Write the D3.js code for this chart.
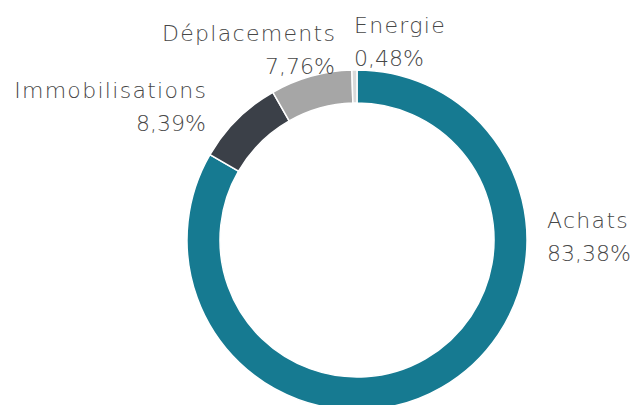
<!DOCTYPE html>
<html>
<head>
<meta charset="utf-8">
<script src="https://cdn.jsdelivr.net/npm/d3@7"></script>
<style>
  html, body { margin: 0; padding: 0; background: #fff; }
  svg text { font-family: "DejaVu Sans", sans-serif; fill: #474747; }
</style>
</head>
<body>
<div id="chart"></div>
<script>
// Data
const categories = ["Achats", "Immobilisations", "Déplacements", "Energie"];
const values = [83.38, 8.39, 7.76, 0.48];
const valueLabels = ["83,38%", "8,39%", "7,76%", "0,48%"];
const colors = ["#167a91", "#3b4048", "#a6a6a6", "#d9d9d9"];

// label anchor positions (layout only)
const labelPos = [
    { x: 547, y: 228, anchor: "start" },
    { x: 206, y: 98, anchor: "end" },
    { x: 335, y: 41, anchor: "end" },
    { x: 354, y: 33, anchor: "start" }
];

const width = 632, height = 405;
const cx = 357, cy = 240;
const outerR = 170, innerR = 137;

const svg = d3.select("#chart")
    .append("svg")
    .attr("width", width)
    .attr("height", height);

const pie = d3.pie().sort(null).value(function(d) { return d; });
const arc = d3.arc().innerRadius(innerR).outerRadius(outerR);

const g = svg.append("g")
    .attr("transform", "translate(" + cx + "," + cy + ")");

g.selectAll("path")
    .data(pie(values))
    .enter()
    .append("path")
    .attr("d", arc)
    .attr("fill", function(d, i) { return colors[i]; })
    .attr("stroke", "#fff")
    .attr("stroke-width", 1.5);

// labels
const labels = svg.selectAll("text.lbl")
    .data(categories)
    .enter()
    .append("text")
    .attr("class", "lbl")
    .attr("y", function(d, i) { return labelPos[i].y; })
    .attr("text-anchor", function(d, i) { return labelPos[i].anchor; })
    .style("font-size", "22px")
    .style("font-weight", 200);

// names get a bit of tracking (the original font is wider)
labels.append("tspan")
    .attr("x", function(d, i) { return labelPos[i].x + (labelPos[i].anchor == "end" ? 1.3 : 0); })
    .style("letter-spacing", "1.3px")
    .text(function(d) { return d; });

labels.append("tspan")
    .attr("x", function(d, i) { return labelPos[i].x; })
    .attr("dy", 33)
    .style("letter-spacing", "0px")
    .text(function(d, i) { return valueLabels[i]; });
</script>
</body>
</html>
